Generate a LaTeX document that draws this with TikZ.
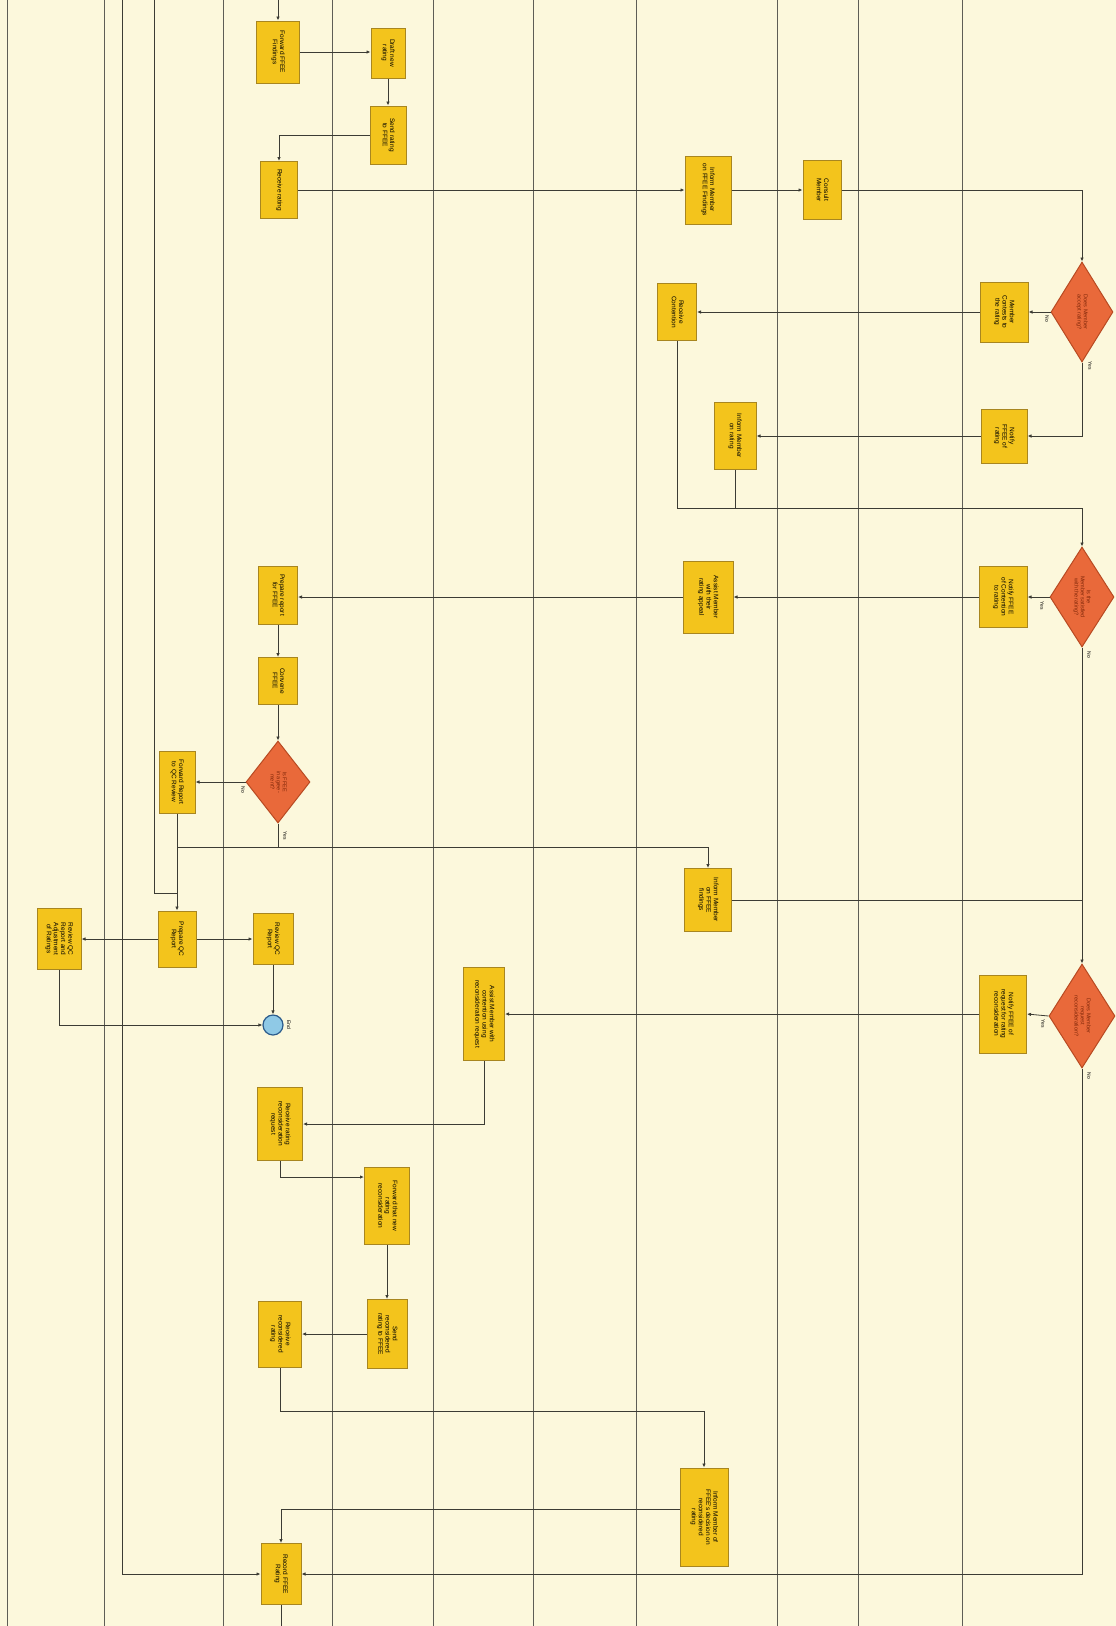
\documentclass[tikz,border=0pt]{standalone}
\usepackage{fontspec}
\setmainfont{Liberation Sans}
\usetikzlibrary{shapes.geometric,arrows.meta,calc}
\definecolor{bg}{HTML}{FCF8DC}
\definecolor{boxfill}{HTML}{F3C41C}
\definecolor{boxline}{HTML}{A88620}
\definecolor{dfill}{HTML}{E9693A}
\definecolor{dline}{HTML}{B84A22}
\definecolor{dtextc}{HTML}{7E2608}
\definecolor{lanec}{HTML}{5E5E56}
\definecolor{conn}{HTML}{3C3C34}
\definecolor{endfill}{HTML}{8FC9E6}
\definecolor{endline}{HTML}{2C5C8C}
\newcommand{\rtx}[1]{\rotatebox{-90}{\begin{tabular}{@{}c@{}}#1\end{tabular}}}
\begin{document}
\begin{tikzpicture}[x=1pt,y=-1pt,
 task/.style={draw=boxline, fill=boxfill, line width=1pt, inner sep=0pt, font=\fontsize{6.5}{7.2}\selectfont, text=black},
 gw/.style={diamond, draw=dline, fill=dfill, line width=1pt, inner sep=0pt, aspect=0.6},
 gwtext/.style={font=\fontsize{5.5}{6.2}\selectfont, text=dtextc, inner sep=0pt},
 glabel/.style={font=\fontsize{5}{5}\selectfont, text=black, inner sep=0pt},
 lanel/.style={draw=lanec, line width=0.7pt},
 link/.style={draw=conn, line width=0.8pt, -{Latex[length=4pt,width=3.5pt]}},
 plain/.style={draw=conn, line width=0.8pt},
]
\fill[bg] (0,0) rectangle (1116,1626);
\useasboundingbox (0,0) rectangle (1116,1626);
\foreach \x in {7,104,223,332,433,533,636,777,858,962} \draw[lanel] (\x,0) -- (\x,1626);

% tasks
\node[task, minimum width=43, minimum height=62] (fwd1) at (278,52) {\rtx{Forward FFEE\\Findings}};
\node[task, minimum width=34, minimum height=50] (draft) at (388,53) {\rtx{Draft new\\rating}};
\node[task, minimum width=36, minimum height=58] (send1) at (388,135) {\rtx{Send rating\\to FFEE}};
\node[task, minimum width=37, minimum height=57] (recv1) at (279,190) {\rtx{Receive rating}};
\node[task, minimum width=46, minimum height=68] (inf1) at (708,190) {\rtx{Inform Member\\on FFEE Findings}};
\node[task, minimum width=38, minimum height=59] (consult) at (822,190) {\rtx{Consult\\Member}};
\node[task, minimum width=48, minimum height=60] (contest) at (1004,312) {\rtx{Member\\Contests to\\the rating}};
\node[task, minimum width=39, minimum height=57] (recvc) at (677,312) {\rtx{Receive\\Contention}};
\node[task, minimum width=46, minimum height=54] (notif1) at (1004,436) {\rtx{Notify\\FFEE of\\rating}};
\node[task, minimum width=42, minimum height=67] (inf2) at (735,436) {\rtx{Inform Member\\on rating}};
\node[task, minimum width=48, minimum height=61] (notif2) at (1003,597) {\rtx{Notify FFEE\\of Contention\\to rating}};
\node[task, minimum width=50, minimum height=72] (assist1) at (708,597) {\rtx{Assist Member\\with their\\rating appeal}};
\node[task, minimum width=39, minimum height=58] (prep) at (278,595) {\rtx{Prepare report\\for FFEE}};
\node[task, minimum width=39, minimum height=47] (conv) at (278,681) {\rtx{Convene\\FFEE}};
\node[task, minimum width=36, minimum height=62] (qc) at (177,782) {\rtx{Forward Report\\to QC Review}};
\node[task, minimum width=47, minimum height=63] (inf3) at (708,900) {\rtx{Inform Member\\on FFEE\\findings}};
\node[task, minimum width=38, minimum height=56] (prepqc) at (177,939) {\rtx{Prepare QC\\Report}};
\node[task, minimum width=44, minimum height=61] (revadj) at (59,939) {\rtx{Review QC\\Report and\\Adjustment\\of Ratings}};
\node[task, minimum width=40, minimum height=51] (revqc) at (273,939) {\rtx{Review QC\\Report}};
\node[task, minimum width=47, minimum height=78] (notif3) at (1003,1014) {\rtx{Notify FFEE of\\request for rating\\reconsideration}};
\node[task, minimum width=41, minimum height=93] (assist2) at (484,1014) {\rtx{Assist Member with\\contention using\\reconsideration request}};
\node[task, minimum width=45, minimum height=73] (recv2) at (280,1124) {\rtx{Receive rating\\reconsideration\\request}};
\node[task, minimum width=45, minimum height=77] (fwd2) at (387,1206) {\rtx{Forward that new\\rating\\reconsideration}};
\node[task, minimum width=40, minimum height=69] (send2) at (387,1334) {\rtx{Send\\reconsidered\\rating to FFEE}};
\node[task, minimum width=43, minimum height=66] (recv3) at (280,1334) {\rtx{Receive\\reconsidered\\rating}};
\node[task, minimum width=48, minimum height=98] (inf4) at (704,1517) {\rtx{Inform Member of\\FFEE's decision on\\reconsidered\\rating}};
\node[task, minimum width=40, minimum height=61] (rec) at (281,1574) {\rtx{Record FFEE\\Rating}};

% gateways
\node[gw, minimum width=62, minimum height=100] (d1) at (1082,312) {};
\node[gwtext] at (d1) {\rtx{Does Member\\accept rating?}};
\node[gw, minimum width=64, minimum height=100] (d2) at (1082,597) {};
\node[gwtext] at (d2) {\rtx{Is the\\Member satisfied\\with the rating?}};
\node[gw, minimum width=64, minimum height=82] (d3) at (278,782) {};
\node[gwtext] at (d3) {\rtx{Is FFEE\\in agree-\\ment?}};
\node[gw, minimum width=66, minimum height=104] (d4) at (1082,1016) {};
\node[gwtext] at (d4) {\rtx{Does Member\\request\\reconsideration?}};

% end event
\node[circle, draw=endline, fill=endfill, line width=1.2pt, minimum size=20, inner sep=0pt] (end) at (273,1025) {};
\node[glabel, anchor=center] (endl) at (289,1025) {\rotatebox{-90}{End}};

% coordinates
\coordinate (top1) at (278,0);
\coordinate (top2) at (154,0);
\coordinate (top3) at (122,0);
\coordinate (bot1) at (281,1626);
\coordinate (j1) at (1082,508);
\coordinate (j2) at (278,847);
\coordinate (j3) at (177,893);

% connectors
\draw[link] (top1) -- (fwd1.north);
\draw[link] (fwd1.east) -- (draft.west |- fwd1.east);
\draw[link] (draft.south) -- (send1.north);
\draw[link] (send1.west) -| (recv1.north);
\draw[link] (recv1.east) -- (inf1.west);
\draw[link] (inf1.east) -- (consult.west);
\draw[link] (consult.east) -| (d1.north);
\draw[link] (d1.west) -- (contest.east);
\draw[link] (contest.west) -- (recvc.east);
\draw[link] (d1.south) |- (notif1.east);
\draw[link] (notif1.west) -- (inf2.east);
\draw[plain] (recvc.south) |- (j1);
\draw[plain] (inf2.south) -- (inf2.south |- j1);
\draw[link] (j1) -- (d2.north);
\draw[link] (d2.west) -- (notif2.east);
\draw[link] (notif2.west) -- (assist1.east);
\draw[link] (assist1.west) -- (prep.east |- assist1.west);
\draw[link] (prep.south) -- (conv.north);
\draw[link] (conv.south) -- (d3.north);
\draw[link] (d3.west) -- (qc.east |- d3.west);
\draw[link] (qc.south) -- (prepqc.north);
\draw[plain] (d3.south) -- (j2);
\draw[link] (qc.south |- j2) -| (inf3.north);
\draw[plain] (top2) |- (j3);
\draw[link] (prepqc.west) -- (revadj.east);
\draw[link] (prepqc.east) -- (revqc.west);
\draw[link] (revqc.south) -- (end.north);
\draw[link] (revadj.south) |- (end.west);
\draw[link] (d2.south) -- (d4.north);
\draw[plain] (inf3.east) -- (d4.north |- inf3.east);
\draw[link] (d4.west) -- (notif3.east);
\draw[link] (notif3.west) -- (assist2.east);
\draw[link] (assist2.south) |- (recv2.east);
\draw[link] (recv2.south) |- (fwd2.west |- 0,1177);
\draw[link] (fwd2.south) -- (send2.north);
\draw[link] (send2.west) -- (recv3.east);
\draw[link] (recv3.south) |- (inf4.north |- 0,1411) -- (inf4.north);
\draw[link] (inf4.west |- 0,1509) -| (rec.north);
\draw[link] (top3) |- (rec.west);
\draw[link] (d4.south) |- (rec.east);
\draw[plain] (rec.south) -- (bot1);

% gateway labels
\node[glabel] at (1047,319) {\rotatebox{-90}{No}};
\node[glabel] at (1090,366) {\rotatebox{-90}{Yes}};
\node[glabel] at (1042,606) {\rotatebox{-90}{Yes}};
\node[glabel] at (1089,655) {\rotatebox{-90}{No}};
\node[glabel] at (243,790) {\rotatebox{-90}{No}};
\node[glabel] at (285,836) {\rotatebox{-90}{Yes}};
\node[glabel] at (1043,1024) {\rotatebox{-90}{Yes}};
\node[glabel] at (1089,1076) {\rotatebox{-90}{No}};
\end{tikzpicture}
\end{document}
